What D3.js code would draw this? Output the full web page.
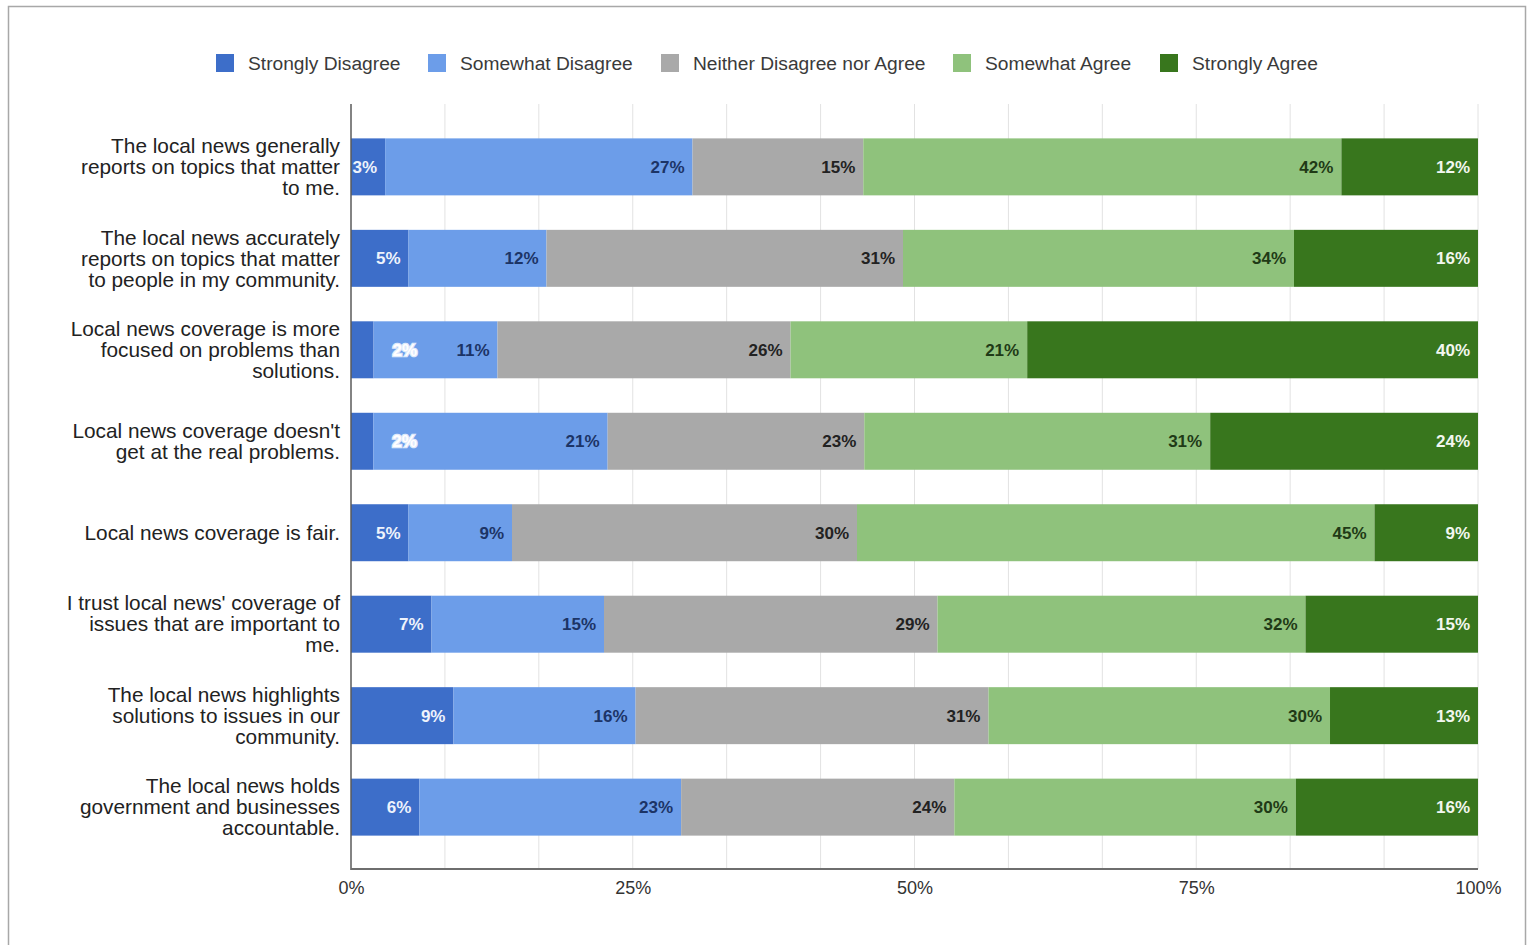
<!DOCTYPE html>
<html>
<head>
<meta charset="utf-8">
<script src="https://cdn.jsdelivr.net/npm/d3@7"></script>
<style>
html,body{margin:0;padding:0;background:#fff;}
svg{display:block;font-family:"Liberation Sans",Arial,sans-serif;}
</style>
</head>
<body>
<svg id="chart" width="1528" height="945"></svg>
<script>
const categories = [
  "The local news generally\nreports on topics that matter\nto me.",
  "The local news accurately\nreports on topics that matter\nto people in my community.",
  "Local news coverage is more\nfocused on problems than\nsolutions.",
  "Local news coverage doesn't\nget at the real problems.",
  "Local news coverage is fair.",
  "I trust local news' coverage of\nissues that are important to\nme.",
  "The local news highlights\nsolutions to issues in our\ncommunity.",
  "The local news holds\ngovernment and businesses\naccountable."
];
const seriesNames = ["Strongly Disagree","Somewhat Disagree","Neither Disagree nor Agree","Somewhat Agree","Strongly Agree"];
const stronglyDisagree = [3, 5, 2, 2, 5, 7, 9, 6];
const somewhatDisagree = [27, 12, 11, 21, 9, 15, 16, 23];
const neither = [15, 31, 26, 23, 30, 29, 31, 24];
const somewhatAgree = [42, 34, 21, 31, 45, 32, 30, 30];
const stronglyAgree = [12, 16, 40, 24, 9, 15, 13, 16];
const xTicks = [0, 0.25, 0.5, 0.75, 1];
const xTickLabels = ["0%", "25%", "50%", "75%", "100%"];

const colors = ["#3d6ec9", "#6c9de9", "#a9a9a9", "#8fc27c", "#38761d"];
const labelColors = ["#eef3fc", "#1c3466", "#222222", "#1f3a16", "#f2f7ef"];

const seriesValues = [stronglyDisagree, somewhatDisagree, neither, somewhatAgree, stronglyAgree];
const rows = categories.map((c, i) => {
  const o = {cat: c};
  seriesNames.forEach((s, j) => o[s] = seriesValues[j][i]);
  return o;
});

const svg = d3.select("#chart");

// outer frame
svg.append("rect").attr("x", 8.5).attr("y", 6.5).attr("width", 1517).attr("height", 960)
  .attr("fill", "none").attr("stroke", "#a8a8a8").attr("stroke-width", 1.5);

const plotLeft = 351, plotRight = 1478, plotTop = 104, plotBottom = 869;
const x = d3.scaleLinear().domain([0, 1]).range([plotLeft, plotRight]);
const y = d3.scaleBand().domain(categories).range([121, 853]).paddingInner(0.377).paddingOuter(0.19);

// gridlines every 1/12
const grid = d3.range(1, 13).map(i => i / 12);
svg.append("g").selectAll("line").data(grid).join("line")
  .attr("x1", d => x(d)).attr("x2", d => x(d))
  .attr("y1", plotTop).attr("y2", plotBottom)
  .attr("stroke", "#e2e2e2").attr("stroke-width", 1);

const stack = d3.stack().keys(seriesNames).offset(d3.stackOffsetExpand);
const stacked = stack(rows);

const g = svg.append("g");
stacked.forEach((layer, si) => {
  g.append("g").selectAll("rect").data(layer).join("rect")
    .attr("x", d => x(d[0]))
    .attr("y", d => y(d.data.cat))
    .attr("width", d => x(d[1]) - x(d[0]))
    .attr("height", y.bandwidth())
    .attr("fill", colors[si]);
});

// value labels
stacked.forEach((layer, si) => {
  const key = seriesNames[si];
  layer.forEach(d => {
    const x0 = x(d[0]), x1 = x(d[1]);
    const w = x1 - x0;
    const cy = y(d.data.cat) + y.bandwidth() / 2;
    const txt = d.data[key] + "%";
    const t = g.append("text")
      .attr("y", cy).attr("dy", "0.36em")
      .attr("font-size", 17).attr("font-weight", "bold")
      .attr("fill", labelColors[si])
      .text(txt);
    if (w < 30) {
      t.attr("x", x1 + 19).attr("text-anchor", "start")
        .attr("fill", "#ffffff").attr("stroke", "#dfe9fb").attr("stroke-width", 2.5)
        .style("paint-order", "stroke");
    } else {
      t.attr("x", x1 - 8).attr("text-anchor", "end");
    }
  });
});

// axes lines
svg.append("line").attr("x1", plotLeft).attr("x2", plotLeft).attr("y1", plotTop).attr("y2", plotBottom + 1)
  .attr("stroke", "#5a5a5a").attr("stroke-width", 1.5);
svg.append("line").attr("x1", plotLeft).attr("x2", plotRight).attr("y1", plotBottom).attr("y2", plotBottom)
  .attr("stroke", "#6e6e6e").attr("stroke-width", 2);

// x tick labels
const xAxis = d3.axisBottom(x).tickValues(xTicks).tickFormat((d, i) => xTickLabels[i]).tickSize(0).tickPadding(12);
const xa = svg.append("g").attr("transform", `translate(0,${plotBottom})`).call(xAxis);
xa.select(".domain").remove();
xa.selectAll("text").attr("font-size", 18).attr("fill", "#333").attr("font-family", "'Liberation Sans',Arial,sans-serif");

// y category labels
categories.forEach(c => {
  const lines = c.split("\n");
  const cy = y(c) + y.bandwidth() / 2;
  const lh = 21;
  const t = svg.append("text").attr("text-anchor", "end").attr("font-size", 20.8).attr("fill", "#222");
  lines.forEach((ln, i) => {
    t.append("tspan").attr("x", 340)
      .attr("y", cy + (i - (lines.length - 1) / 2) * lh)
      .attr("dy", "0.35em").text(ln);
  });
});

// legend
const legendX = [216, 428, 661, 953, 1160];
const lg = svg.append("g");
seriesNames.forEach((s, i) => {
  lg.append("rect").attr("x", legendX[i]).attr("y", 54).attr("width", 18).attr("height", 18).attr("fill", colors[i]);
  lg.append("text").attr("x", legendX[i] + 32).attr("y", 63).attr("dy", "0.35em")
    .attr("font-size", 19.2).attr("fill", "#3a3a3a").text(s);
});
</script>
</body>
</html>
